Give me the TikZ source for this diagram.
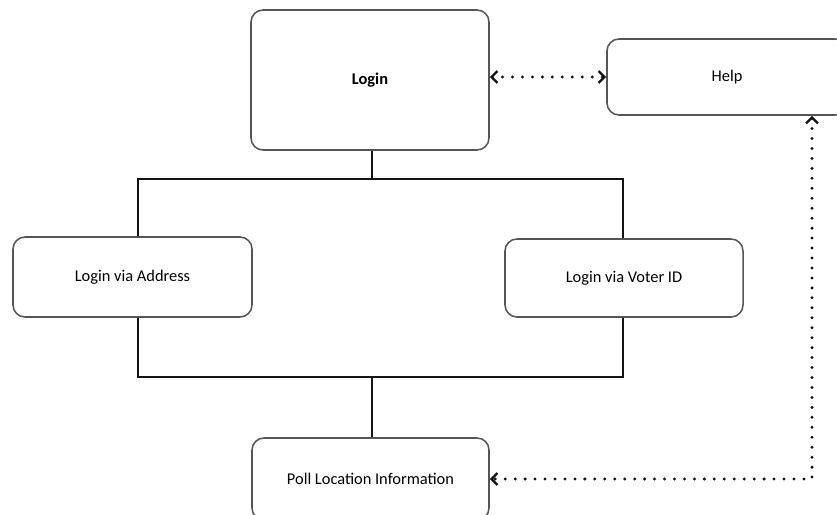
\documentclass[tikz,border=0pt]{standalone}
\usepackage{fontspec}
\setmainfont{Carlito}
\usepackage{xcolor}
\definecolor{Col1}{RGB}{85,85,85}
\definecolor{Col2}{RGB}{20,20,20}
\usepackage{tikz}
\usetikzlibrary{arrows.meta}
\tikzstyle{Box}=[rectangle,rounded corners=0.36cm,draw=Col1,line width=1.3pt,
minimum width=7.14cm,inner sep=0pt,font=\fontsize{14}{16}\selectfont]
\tikzstyle{Edge}=[draw=Col2,line width=1.9pt]
\tikzstyle{Dots}=[draw=Col2,line width=2.8pt,line cap=round,
dash pattern=on 0pt off 8.5pt,
{Straight Barb[length=0.18cm,width=0.36cm,line width=2pt]}-{Straight Barb[length=0.18cm,width=0.36cm,line width=2pt]}]

\begin{document}
\begin{tikzpicture}[x=0.03cm,y=-0.03cm]
        \useasboundingbox (0,0) rectangle (837,515);
        \node[Box,minimum height=4.2cm](login)at(370.00,80.00){\textbf{Login}};
        \node[Box,minimum width=7.2cm,minimum height=2.28cm](help)at(727.00,77.00){Help};
        \node[Box,minimum width=7.17cm,minimum height=2.4cm](addr)at(132.50,277.00){Login via Address};
        \node[Box,minimum height=2.34cm](voter)at(624.00,278.00){Login via Voter ID};
        \node[Box,minimum width=7.11cm,minimum height=2.46cm](poll)at(370.50,479.00){Poll Location Information};
        \coordinate(tl)at(138.00,179.00);
        \coordinate(tr)at(623.00,179.00);
        \coordinate(bl)at(138.00,377.00);
        \coordinate(br)at(623.00,377.00);
        \coordinate(hc)at(812.00,0.00);
        \draw[Edge]([xshift=0.06cm]login.south)--([xshift=0.06cm]login.south|-tl);
        \draw[Edge](tl|-addr.north)--(tl)--(tr)--(tr|-voter.north);
        \draw[Edge](bl|-addr.south)--(bl)--(br)--(br|-voter.south);
        \draw[Edge]([xshift=0.04cm]poll.north)--([xshift=0.04cm]poll.north|-bl);
        \draw[Dots](login.east|-help.west)--(help.west);
        \draw[Dots](help.south-|hc)|-(poll.east);
    \end{tikzpicture}
\end{document}
